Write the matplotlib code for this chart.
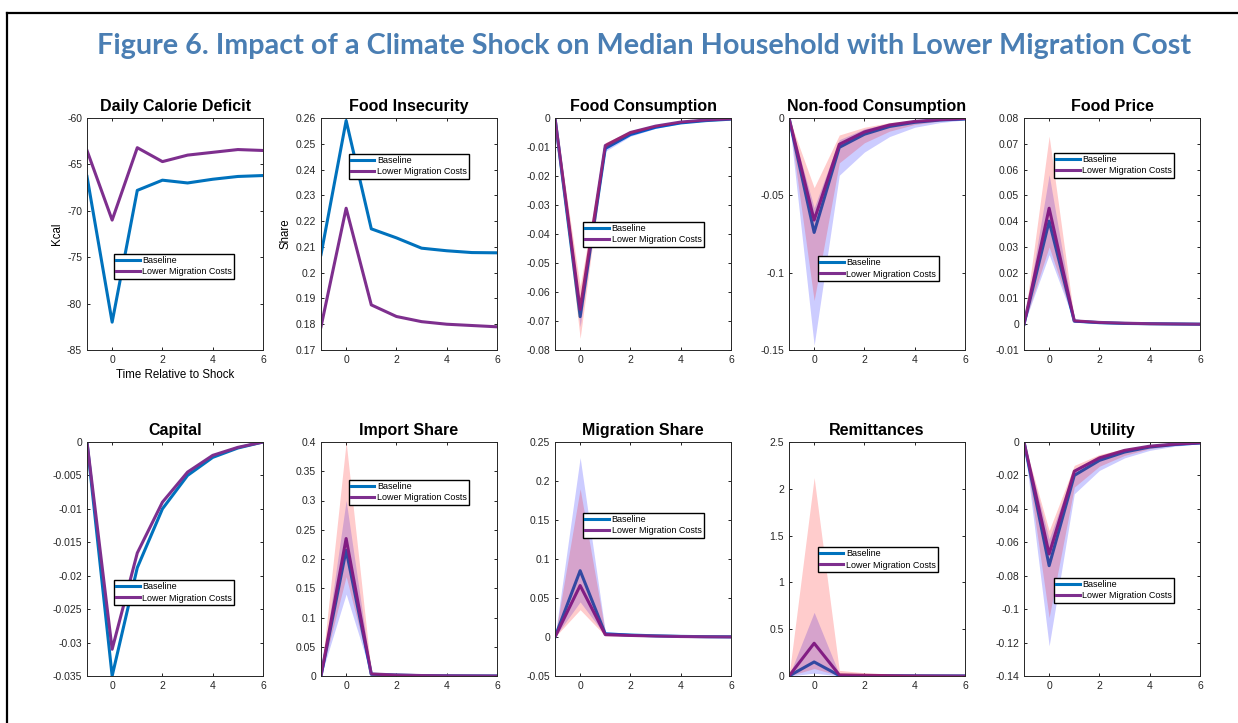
import matplotlib
matplotlib.use("Agg")
import matplotlib.pyplot as plt
from matplotlib import ticker
from matplotlib.lines import Line2D

# time axis
t = [-1, 0, 1, 2, 3, 4, 5, 6]

# Daily Calorie Deficit
cal_base = [-66.3, -82.0, -67.8, -66.7, -67.0, -66.6, -66.3, -66.2]
cal_lower = [-63.5, -71.0, -63.2, -64.7, -64.0, -63.7, -63.4, -63.5]

# Food Insecurity
fi_base = [0.207, 0.259, 0.217, 0.2135, 0.2095, 0.2085, 0.2078, 0.2077]
fi_lower = [0.179, 0.225, 0.1875, 0.183, 0.181, 0.180, 0.1795, 0.179]

# Food Consumption
fc_base = [0, -0.0685, -0.0105, -0.0057, -0.0032, -0.0017, -0.0009, -0.0004]
fc_lower = [0, -0.066, -0.0095, -0.005, -0.0028, -0.0014, -0.0007, -0.0003]
fc_base_lo = [0, -0.072, -0.0115, -0.0063, -0.0036, -0.0019, -0.001, -0.0005]
fc_base_hi = [0, -0.065, -0.0098, -0.0052, -0.0029, -0.0015, -0.0008, -0.0003]
fc_lower_lo = [0, -0.076, -0.0105, -0.0056, -0.0031, -0.0016, -0.0008, -0.0004]
fc_lower_hi = [0, -0.058, -0.0085, -0.0044, -0.0024, -0.0012, -0.0006, -0.0002]

# Non-food Consumption
nf_base = [0, -0.074, -0.019, -0.0105, -0.0055, -0.0028, -0.0013, -0.0006]
nf_lower = [0, -0.066, -0.017, -0.009, -0.0045, -0.0022, -0.001, -0.0004]
nf_base_lo = [0, -0.147, -0.037, -0.022, -0.012, -0.006, -0.003, -0.0012]
nf_base_hi = [0, -0.058, -0.014, -0.007, -0.0035, -0.0017, -0.0008, -0.0003]
nf_lower_lo = [0, -0.118, -0.029, -0.016, -0.0085, -0.0042, -0.002, -0.0009]
nf_lower_hi = [0, -0.045, -0.011, -0.006, -0.003, -0.0014, -0.0006, -0.0002]

# Food Price
fp_base = [0, 0.040, 0.0012, 0.0006, 0.0003, 0.0002, 0.0001, 0]
fp_lower = [0, 0.045, 0.0013, 0.0007, 0.0004, 0.0002, 0.0001, 0]
fp_base_lo = [0, 0.027, 0.0008, 0.0004, 0.0002, 0.0001, 0, 0]
fp_base_hi = [0, 0.058, 0.0016, 0.0008, 0.0004, 0.0002, 0.0001, 0]
fp_lower_lo = [0, 0.030, 0.0009, 0.0005, 0.0002, 0.0001, 0, 0]
fp_lower_hi = [0, 0.073, 0.002, 0.001, 0.0005, 0.0003, 0.0001, 0]

# Capital
cap_base = [0, -0.035, -0.0188, -0.0100, -0.0050, -0.0023, -0.0009, 0]
cap_lower = [0, -0.031, -0.0166, -0.0090, -0.0045, -0.0020, -0.0008, 0]

# Import Share
imp_base = [0, 0.215, 0.003, 0.0015, 0.0006, 0.0003, 0.0001, 0]
imp_lower = [0, 0.235, 0.0035, 0.0018, 0.0008, 0.0004, 0.0002, 0]
imp_base_lo = [0, 0.14, 0.002, 0.001, 0.0004, 0.0002, 0, 0]
imp_base_hi = [0, 0.30, 0.005, 0.0025, 0.001, 0.0005, 0.0002, 0]
imp_lower_lo = [0, 0.17, 0.0015, 0.0008, 0.0004, 0.0002, 0, 0]
imp_lower_hi = [0, 0.40, 0.006, 0.003, 0.0015, 0.0007, 0.0003, 0]

# Migration Share
mig_base = [0, 0.085, 0.004, 0.0025, 0.0015, 0.0008, 0.0004, 0.0002]
mig_lower = [0, 0.066, 0.003, 0.002, 0.0012, 0.0006, 0.0003, 0.0001]
mig_base_lo = [0, 0.045, 0.002, 0.0012, 0.0007, 0.0004, 0.0002, 0.0001]
mig_base_hi = [0, 0.230, 0.007, 0.0045, 0.0025, 0.0014, 0.0007, 0.0003]
mig_lower_lo = [0, 0.035, 0.0015, 0.001, 0.0006, 0.0003, 0.0001, 0]
mig_lower_hi = [0, 0.190, 0.006, 0.004, 0.0022, 0.0012, 0.0006, 0.0002]

# Remittances
rem_base = [0, 0.15, 0.005, 0.003, 0.002, 0.001, 0.0005, 0]
rem_lower = [0, 0.35, 0.012, 0.007, 0.004, 0.002, 0.001, 0]
rem_base_lo = [0, 0.03, 0.001, 0.0005, 0.0003, 0.0002, 0.0001, 0]
rem_base_hi = [0, 0.68, 0.02, 0.012, 0.007, 0.004, 0.002, 0.001]
rem_lower_lo = [0, 0.08, 0.003, 0.002, 0.001, 0.0005, 0.0002, 0]
rem_lower_hi = [0, 2.12, 0.06, 0.035, 0.02, 0.012, 0.006, 0.003]

# Utility
ut_base = [0, -0.074, -0.020, -0.011, -0.006, -0.003, -0.0015, -0.0006]
ut_lower = [0, -0.067, -0.0175, -0.0095, -0.005, -0.0025, -0.0012, -0.0005]
ut_base_lo = [0, -0.122, -0.031, -0.017, -0.0095, -0.005, -0.0025, -0.001]
ut_base_hi = [0, -0.058, -0.016, -0.0085, -0.0045, -0.0022, -0.001, -0.0004]
ut_lower_lo = [0, -0.105, -0.027, -0.0145, -0.008, -0.004, -0.002, -0.0008]
ut_lower_hi = [0, -0.053, -0.014, -0.0075, -0.004, -0.002, -0.0009, -0.0003]

titles = ["Daily Calorie Deficit", "Food Insecurity", "Food Consumption",
          "Non-food Consumption", "Food Price", "Capital", "Import Share",
          "Migration Share", "Remittances", "Utility"]

BLUE = "#0072BD"
PURPLE = "#7E2F8E"
TITLE_BLUE = "#4A7EB3"

plt.rcParams['font.family'] = ['Liberation Sans', 'DejaVu Sans']

fig = plt.figure(figsize=(12.38, 7.23), dpi=100)
W, H = 1238.0, 723.0

# frame lines of the page box
fig.add_artist(Line2D([7 / W, 7 / W], [0, 1 - 13 / H], color="black", lw=1.6,
                      transform=fig.transFigure))
fig.add_artist(Line2D([7 / W, 1], [1 - 13 / H, 1 - 13 / H], color="black", lw=1.6,
                      transform=fig.transFigure))

fig.text(644.5 / W, 1 - 46 / H,
         "Figure 6. Impact of a Climate Shock on Median Household with Lower Migration Cost",
         ha="center", va="center", fontsize=20.7, fontweight="bold",
         color=TITLE_BLUE, family=["Lato", "DejaVu Sans"])

lefts = [87, 321, 555, 789, 1024]
rows = [(118, 350), (442, 676)]


def make_ax(i):
    r, c = divmod(i, 5)
    top, bot = rows[r]
    ax = fig.add_axes([lefts[c] / W, 1 - bot / H, 176 / W, (bot - top) / H])
    return ax


def style(ax, title, yticks, ylim):
    ax.set_xlim(-1, 6)
    ax.set_xticks([0, 2, 4, 6])
    ax.set_ylim(*ylim)
    ax.set_yticks(yticks)
    ax.yaxis.set_major_formatter(ticker.FuncFormatter(lambda v, p: "%g" % round(v, 6)))
    ax.tick_params(direction="in", length=2.5, width=0.6, top=True, right=True,
                   labelsize=7.5, labelcolor="#262626", pad=3.5)
    for s in ax.spines.values():
        s.set_linewidth(0.7)
        s.set_color("#262626")
    ax.set_title(title, fontsize=11.5, fontweight="bold", pad=5)


def legend(ax, x0, ytop):
    ax.legend(loc="upper left", bbox_to_anchor=(x0, ytop), fontsize=6.5,
              frameon=True, fancybox=False, edgecolor="black", framealpha=1,
              handlelength=2.6, handletextpad=0.3, borderpad=0.25,
              labelspacing=0.25, borderaxespad=0)


def lines(ax, base, lower):
    ax.plot(t, base, color=BLUE, lw=2.2, label="Baseline", zorder=2)
    ax.plot(t, lower, color=PURPLE, lw=2.2, label="Lower Migration Costs", zorder=2)


def bands(ax, b_lo, b_hi, l_lo, l_hi):
    ax.fill_between(t, b_lo, b_hi, color="blue", alpha=0.2, lw=0, zorder=3)
    ax.fill_between(t, l_lo, l_hi, color="red", alpha=0.2, lw=0, zorder=3)


def frange(a, b, s):
    n = int(round((b - a) / s))
    return [a + k * s for k in range(n + 1)]


# 1 Daily Calorie Deficit
ax = make_ax(0)
lines(ax, cal_base, cal_lower)
style(ax, titles[0], frange(-85, -60, 5), (-85, -60))
ax.set_ylabel("Kcal", fontsize=8.3, labelpad=3)
ax.set_xlabel("Time Relative to Shock", fontsize=8.3, labelpad=3)
legend(ax, 0.153, 0.414)

# 2 Food Insecurity
ax = make_ax(1)
lines(ax, fi_base, fi_lower)
style(ax, titles[1], frange(0.17, 0.26, 0.01), (0.17, 0.26))
ax.set_ylabel("Share", fontsize=8.3, labelpad=3)
legend(ax, 0.157, 0.845)

# 3 Food Consumption
ax = make_ax(2)
lines(ax, fc_base, fc_lower)
bands(ax, fc_base_lo, fc_base_hi, fc_lower_lo, fc_lower_hi)
style(ax, titles[2], frange(-0.08, 0, 0.01), (-0.08, 0))
legend(ax, 0.16, 0.552)

# 4 Non-food Consumption
ax = make_ax(3)
lines(ax, nf_base, nf_lower)
bands(ax, nf_base_lo, nf_base_hi, nf_lower_lo, nf_lower_hi)
style(ax, titles[3], [-0.15, -0.1, -0.05, 0], (-0.15, 0))
legend(ax, 0.165, 0.405)

# 5 Food Price
ax = make_ax(4)
lines(ax, fp_base, fp_lower)
bands(ax, fp_base_lo, fp_base_hi, fp_lower_lo, fp_lower_hi)
style(ax, titles[4], frange(-0.01, 0.08, 0.01), (-0.01, 0.08))
legend(ax, 0.17, 0.85)

# 6 Capital
ax = make_ax(5)
lines(ax, cap_base, cap_lower)
style(ax, titles[5], frange(-0.035, 0, 0.005), (-0.035, 0))
legend(ax, 0.153, 0.41)

# 7 Import Share
ax = make_ax(6)
lines(ax, imp_base, imp_lower)
bands(ax, imp_base_lo, imp_base_hi, imp_lower_lo, imp_lower_hi)
style(ax, titles[6], frange(0, 0.4, 0.05), (0, 0.4))
legend(ax, 0.157, 0.838)

# 8 Migration Share
ax = make_ax(7)
lines(ax, mig_base, mig_lower)
bands(ax, mig_base_lo, mig_base_hi, mig_lower_lo, mig_lower_hi)
style(ax, titles[7], frange(-0.05, 0.25, 0.05), (-0.05, 0.25))
legend(ax, 0.16, 0.697)

# 9 Remittances
ax = make_ax(8)
lines(ax, rem_base, rem_lower)
bands(ax, rem_base_lo, rem_base_hi, rem_lower_lo, rem_lower_hi)
style(ax, titles[8], frange(0, 2.5, 0.5), (0, 2.5))
legend(ax, 0.163, 0.551)

# 10 Utility
ax = make_ax(9)
lines(ax, ut_base, ut_lower)
bands(ax, ut_base_lo, ut_base_hi, ut_lower_lo, ut_lower_hi)
style(ax, titles[9], frange(-0.14, 0, 0.02), (-0.14, 0))
legend(ax, 0.17, 0.419)

fig.savefig("out.png", dpi=100)
